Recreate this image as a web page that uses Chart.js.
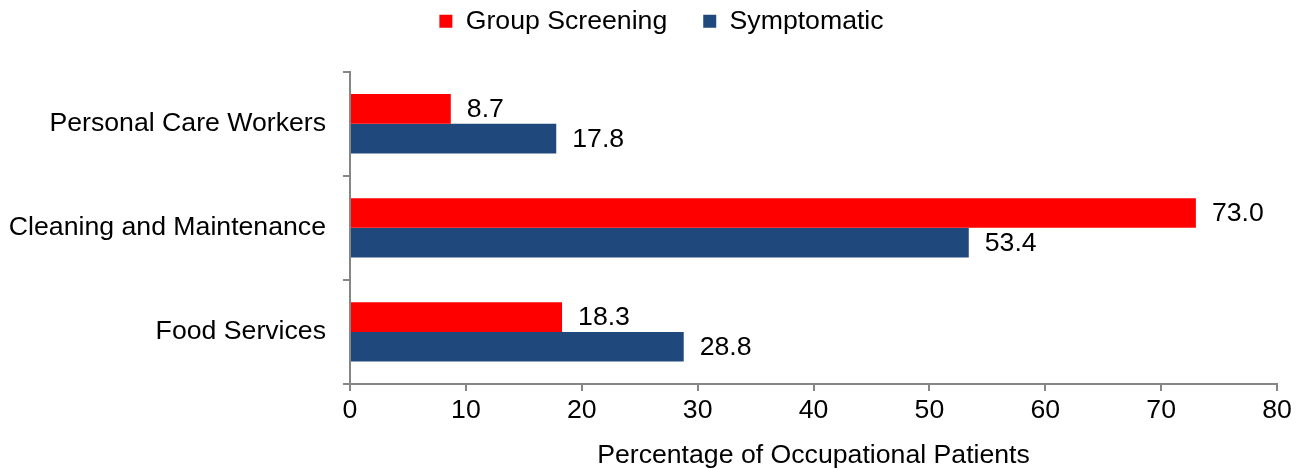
<!DOCTYPE html>
<html>
<head>
<meta charset="utf-8">
<script src="https://cdn.jsdelivr.net/npm/chart.js@4"></script>
<style>
  html, body { margin: 0; padding: 0; background: #fff; }
  #wrap { width: 1304px; height: 469px; }
</style>
</head>
<body>
<div id="wrap"><canvas id="occChart"></canvas></div>
<script>
// data
const categories = ['Personal Care Workers', 'Cleaning and Maintenance', 'Food Services'];
const groupScreening = [8.7, 73.0, 18.3];
const symptomatic = [17.8, 53.4, 28.8];
const xTicks = [0, 10, 20, 30, 40, 50, 60, 70, 80];

const FS = 26.67;
Chart.defaults.font.family = '"Liberation Sans", Arial, sans-serif';
Chart.defaults.font.size = FS;
Chart.defaults.color = '#000';

// value labels at the bar ends
const barLabels = {
  id: 'barLabels',
  afterDatasetsDraw(chart) {
    const ctx = chart.ctx;
    ctx.save();
    ctx.font = FS + 'px "Liberation Sans", Arial, sans-serif';
    ctx.fillStyle = '#000';
    ctx.textBaseline = 'middle';
    ctx.textAlign = 'left';
    chart.data.datasets.forEach((ds, i) => {
      chart.getDatasetMeta(i).data.forEach((bar, j) => {
        ctx.fillText(ds.data[j].toFixed(1), bar.x + 16, bar.y + 1);
      });
    });
    ctx.restore();
  }
};

// legend in the reference sits a bit right of centre
const legendShift = {
  id: 'legendShift',
  afterLayout(chart) {
    chart.legend.left += 23;
    chart.legend.right += 23;
  }
};

new Chart(document.getElementById('occChart'), {
  type: 'bar',
  data: {
    labels: categories,
    datasets: [
      { label: 'Group Screening', data: groupScreening, backgroundColor: '#FF0000', barPercentage: 1, categoryPercentage: 0.57 },
      { label: 'Symptomatic', data: symptomatic, backgroundColor: '#1F497D', barPercentage: 1, categoryPercentage: 0.57 }
    ]
  },
  options: {
    indexAxis: 'y',
    responsive: true,
    maintainAspectRatio: false,
    animation: false,
    layout: { padding: { left: 0, right: 27, top: -28, bottom: -3 } },
    plugins: {
      legend: {
        position: 'top',
        labels: { boxWidth: 13, boxHeight: 13, padding: 36, font: { size: FS } }
      },
      tooltip: { enabled: false }
    },
    scales: {
      x: {
        min: 0,
        max: 80,
        afterBuildTicks(axis) { axis.ticks = xTicks.map(v => ({ value: v })); },
        grid: { drawOnChartArea: false, color: '#868686', tickLength: 7, lineWidth: 2 },
        border: { color: '#868686', width: 2 },
        ticks: { padding: 4, font: { size: FS } },
        title: { display: true, text: 'Percentage of Occupational Patients', font: { size: FS }, padding: { top: 9, bottom: 0 } }
      },
      // empty spacer between legend and plot
      xTop: {
        type: 'linear',
        position: 'top',
        display: true,
        grid: { display: false },
        border: { display: false },
        ticks: { display: false },
        afterFit(scale) { scale.height = 27; }
      },
      y: {
        grid: { offset: true, drawOnChartArea: false, color: '#868686', tickLength: 7, lineWidth: 2 },
        border: { color: '#868686', width: 2 },
        ticks: { padding: 17, font: { size: FS } },
        afterFit(scale) { scale.width = 350; }
      }
    }
  },
  plugins: [barLabels, legendShift]
});
</script>
</body>
</html>
